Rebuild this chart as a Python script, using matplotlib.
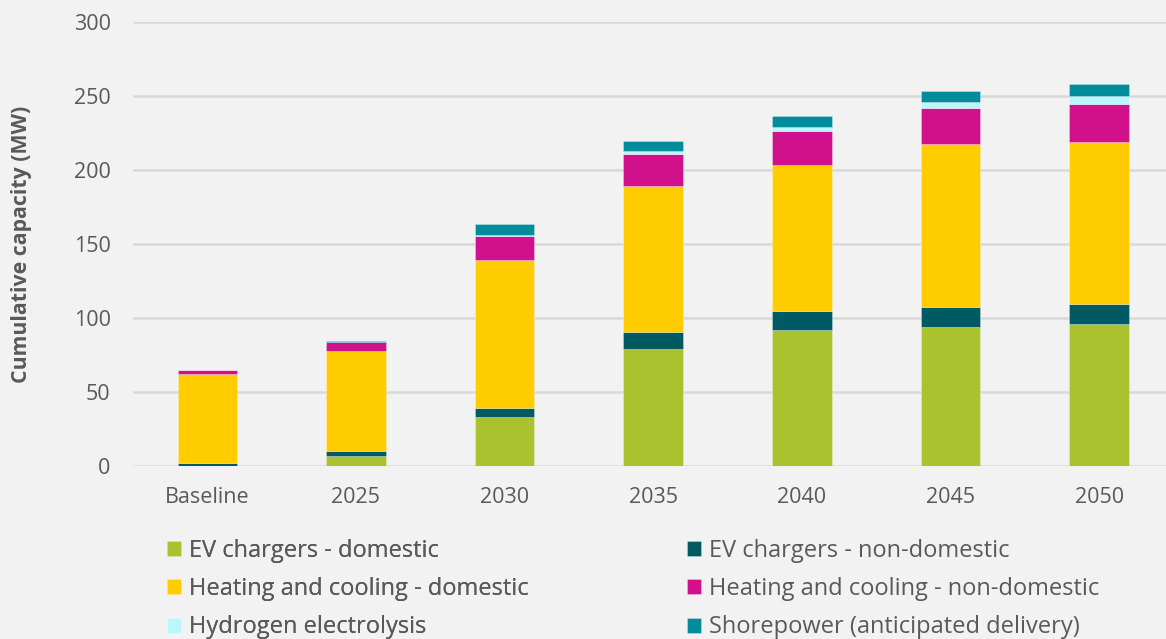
import matplotlib
matplotlib.use("Agg")
import matplotlib.pyplot as plt
import numpy as np

categories = ["Baseline", "2025", "2030", "2035", "2040", "2045", "2050"]
ev_domestic = [0, 7, 33, 79, 92, 94, 96]
ev_nondomestic = [2, 3, 6.5, 11.5, 13, 13.3, 13.3]
heat_domestic = [60, 68, 100, 99, 98.5, 110.5, 109.5]
heat_nondomestic = [3, 5.5, 16, 21.5, 23, 24, 25.5]
hydrogen = [0, 0, 0.7, 2, 2.7, 4, 5.7]
shorepower = [0, 1, 7.3, 6.8, 7.4, 7.5, 8.1]

series = [
    ("EV chargers - domestic", ev_domestic, "#aac22e"),
    ("EV chargers - non-domestic", ev_nondomestic, "#005a64"),
    ("Heating and cooling - domestic", heat_domestic, "#ffcc00"),
    ("Heating and cooling - non-domestic", heat_nondomestic, "#d0118b"),
    ("Hydrogen electrolysis", hydrogen, "#b9f7fd"),
    ("Shorepower (anticipated delivery)", shorepower, "#008c9a"),
]

plt.rcParams['font.family'] = ['Open Sans', 'DejaVu Sans']
bg = "#f2f2f2"
txt = "#595959"

fig = plt.figure(figsize=(11.66, 6.39), dpi=100, facecolor=bg)
ax = fig.add_axes([0.114, 0.2707, 0.886, 0.6949], facecolor=bg)

x = np.arange(len(categories))
bottom = np.zeros(len(categories))
handles = []
for label, vals, col in series:
    v = np.array(vals, dtype=float)
    b = ax.bar(x, v, 0.4, bottom=bottom, color=col, label=label,
               edgecolor=(1, 1, 1, 0.4), linewidth=0.5, zorder=3)
    handles.append(b)
    bottom += v

ax.set_ylim(0, 300)
ax.set_xlim(-0.5, 6.45)
ax.set_yticks(range(0, 301, 50))
ax.set_xticks(x)
ax.set_xticklabels(categories)
ax.yaxis.grid(True, color="#d9d9d9", linewidth=1.8, zorder=0)
ax.set_axisbelow(True)
for s in ax.spines.values():
    s.set_visible(False)
ax.tick_params(axis='both', length=0, colors=txt, labelsize=15.5)
ax.tick_params(axis='y', pad=16)
ax.tick_params(axis='x', pad=15)
ax.set_ylabel("Cumulative capacity (MW)", fontsize=15.3, fontweight='bold', color=txt)
ax.yaxis.set_label_coords(-0.098, 0.5)

def make_legend(idx, xpx):
    leg = fig.legend([handles[i] for i in idx], [series[i][0] for i in idx],
                     loc='upper left', bbox_to_anchor=(xpx / 1166, 1 - 539 / 639),
                     frameon=False, fontsize=17, handlelength=0.6, handleheight=0.6,
                     handletextpad=0.35, labelspacing=0.6,
                     borderaxespad=0, borderpad=0)
    for t in leg.get_texts():
        t.set_color(txt)
    return leg

l1 = make_legend([0, 2, 4], 167)
fig.add_artist(l1)
make_legend([1, 3, 5], 687)

fig.savefig("out.png", dpi=100, facecolor=bg)
